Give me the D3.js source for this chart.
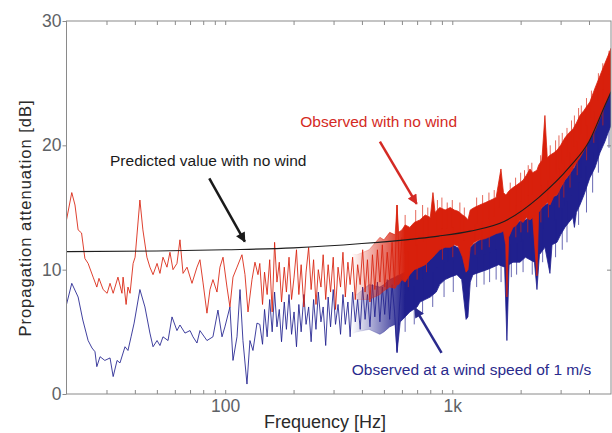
<!DOCTYPE html>
<html>
<head>
<meta charset="utf-8">
<script src="https://cdn.jsdelivr.net/npm/d3@7"></script>
<style>
  body { margin: 0; background: #fff; }
  svg { display: block; font-family: "Liberation Sans", Arial, sans-serif; }
</style>
</head>
<body>
<svg id="chart" width="612" height="433"></svg>
<script>
// predicted attenuation, no wind [Hz, dB]
var predicted = [[20, 11.45], [50, 11.5], [100, 11.6], [200, 11.75], [400, 12.1], [700, 12.5],
  [870, 12.7], [1200, 13.1], [1700, 13.9], [2400, 15.8], [3300, 18.3], [4000, 20.3],
  [4700, 23.2], [5000, 24.3]];

// observed, no wind : low-frequency trace [Hz, dB]
var redLine = [[20, 14.0], [21.1, 16.2], [21.8, 15.2], [22.5, 13.2], [23.3, 12.95], [24.1, 10.9],
  [24.9, 10.5], [26.2, 9.4], [27.2, 8.6], [27.8, 9.3], [29.0, 8.4], [30.2, 8.1], [31.1, 8.9],
  [32.1, 8.1], [33.7, 9.4], [35.1, 8.1], [35.5, 9.4], [36.6, 7.2], [37.3, 8.6], [38.1, 8.1],
  [39.3, 10.5], [40.1, 11.0], [42.1, 15.6], [43.4, 13.2], [45.2, 11.0], [46.6, 10.2], [48.1, 9.6],
  [50.1, 10.5], [51.6, 9.7], [53.2, 11.0], [55.4, 10.2], [57.1, 11.4], [58.9, 10.0], [61.3, 10.5],
  [63.2, 12.4], [65.2, 9.7], [67.9, 10.2], [71.4, 8.9], [75.1, 10.2], [77.4, 10.8], [79.8, 9.0],
  [83.1, 6.5], [85.7, 8.4], [88.3, 9.2], [92.0, 8.2], [94.8, 10.2], [97.8, 11.0], [101.8, 8.6],
  [104.9, 7.0], [108.2, 9.4], [112.7, 10.2], [118.5, 11.2], [122.2, 9.6], [126.0, 6.6],
  [131.2, 9.2], [135.2, 10.6], [139.4, 9.6],
  [142, 10.5], [146, 7.2], [149, 9.8], [153, 8.0], [157, 10.8], [161, 6.6], [165, 12.2], [169, 9.0],
  [173, 10.6], [177, 7.4], [182, 10.2], [186, 8.2], [191, 11.0], [196, 7.6], [201, 9.4], [206, 11.6],
  [211, 8.0], [216, 10.4], [222, 7.0], [227, 9.8], [233, 11.8], [239, 8.4], [245, 10.8], [251, 7.2],
  [257, 10.0], [264, 8.6], [270, 11.2], [277, 7.6], [284, 10.4], [291, 8.2], [299, 11.0], [306, 6.8],
  [314, 10.2], [322, 8.6], [330, 11.4], [338, 7.8], [347, 10.6], [355, 8.8], [364, 11.0], [374, 7.6],
  [383, 10.4], [393, 8.8], [403, 11.6], [413, 8.2], [423, 10.8], [434, 7.4], [445, 11.2], [456, 8.4],
  [468, 11.6], [480, 9.0], [492, 12.0], [504, 8.6], [517, 11.4], [530, 9.2], [543, 12.2], [557, 8.8],
  [571, 15.2], [585, 9.6], [600, 12.6]];

// observed, wind 1 m/s : low-frequency trace [Hz, dB]
var blueLine = [[20, 7.2], [21.1, 8.9], [22.5, 7.8], [23.6, 5.95], [24.9, 4.3], [25.9, 3.7],
  [26.7, 3.4], [27.2, 2.2], [28.1, 3.0], [29.5, 2.7], [31.1, 2.9], [32.1, 1.4], [33.4, 2.7],
  [34.4, 2.5], [36.2, 3.8], [37.3, 3.5], [38.5, 4.6], [39.7, 5.7], [42.1, 8.4], [44.3, 7.0],
  [46.6, 4.9], [48.1, 3.8], [50.1, 4.3], [51.6, 3.9], [53.2, 4.6], [56.0, 4.3], [58.3, 6.2],
  [61.3, 5.1], [63.2, 5.55], [66.5, 4.9], [70.0, 5.1], [72.1, 4.6], [75.1, 4.1], [77.4, 5.1],
  [83.1, 4.3], [88.3, 4.6], [92.9, 6.75], [96.8, 4.6], [99.7, 5.4], [104.9, 7.0], [108.2, 2.7],
  [112.7, 4.6], [116.2, 8.4], [119.7, 4.3], [124.7, 0.8], [128.5, 4.3], [132.5, 3.5], [138.0, 5.7],
  [142, 5.6], [146, 4.0], [149, 6.8], [153, 4.6], [157, 7.6], [161, 5.0], [165, 8.2], [169, 5.4],
  [173, 6.8], [177, 4.2], [182, 7.4], [186, 5.2], [191, 8.0], [196, 4.8], [201, 6.6], [206, 3.8],
  [211, 7.2], [216, 5.0], [222, 8.0], [227, 5.6], [233, 7.0], [239, 4.2], [245, 7.6], [251, 5.2],
  [257, 8.2], [264, 5.8], [270, 7.0], [277, 3.9], [284, 7.8], [291, 5.4], [299, 8.4], [306, 5.6],
  [314, 7.2], [322, 4.8], [330, 8.0], [338, 5.6], [347, 7.4], [355, 4.6], [364, 8.2], [374, 5.8],
  [383, 7.6], [393, 5.2], [403, 8.6], [413, 6.0], [423, 8.0], [434, 5.4], [445, 8.8], [456, 6.2],
  [468, 9.0], [480, 5.8], [492, 8.6], [504, 6.4], [517, 9.2], [530, 6.0], [543, 8.8], [557, 6.6],
  [571, 3.4], [585, 7.0], [600, 9.4]];

// dense high-frequency part, min / max envelope [Hz, low dB, high dB]
var redBand = [[330, 7.6, 11.4], [380, 7.6, 11.2], [430, 7.6, 11.6],
  [480, 8.0, 12.6], [500, 8.3, 12.4], [530, 8.6, 13.0], [560, 8.5, 12.8], [571, 8.8, 15.2],
  [580, 8.8, 13.0], [600, 9.2, 13.2], [620, 9.0, 13.6], [650, 9.6, 13.4], [680, 10.0, 13.8],
  [720, 10.2, 14.0], [760, 10.4, 14.4], [800, 10.8, 14.2], [822, 11.0, 16.2], [840, 11.2, 14.6],
  [880, 11.6, 15.0], [930, 11.8, 14.8], [980, 11.8, 15.0], [1020, 12.0, 14.8], [1060, 11.9, 14.7],
  [1110, 11.0, 14.4], [1150, 9.8, 14.2], [1172, 10.0, 14.0], [1200, 11.8, 14.8], [1250, 12.2, 15.0],
  [1320, 12.4, 15.2], [1400, 12.5, 15.4], [1480, 12.7, 15.6], [1560, 12.9, 15.8], [1638, 13.0, 18.1],
  [1680, 13.1, 16.2], [1720, 12.0, 16.0], [1740, 7.8, 16.1], [1770, 12.6, 16.3], [1850, 13.4, 16.6],
  [1920, 13.6, 16.8], [1986, 14.0, 17.0], [2050, 13.8, 17.2], [2120, 14.2, 17.6], [2198, 14.0, 18.1],
  [2260, 14.2, 17.8], [2360, 9.5, 18.0], [2400, 14.6, 18.4], [2480, 15.0, 18.8], [2558, 15.2, 22.4],
  [2620, 15.4, 19.0], [2692, 15.2, 19.2], [2800, 15.9, 19.4], [2890, 16.0, 19.6], [3000, 16.6, 20.0],
  [3134, 17.2, 20.6], [3260, 17.6, 21.0], [3398, 18.1, 21.3], [3520, 18.6, 21.8], [3648, 19.0, 22.4],
  [3800, 19.6, 22.8], [4038, 20.5, 23.5], [4250, 21.2, 24.6], [4470, 22.2, 25.6], [4700, 23.2, 26.6],
  [4850, 23.8, 27.2], [5000, 24.5, 27.8]];

var blueBand = [[330, 4.6, 8.2], [380, 5.0, 8.0], [430, 5.2, 8.8],
  [480, 4.8, 8.6], [500, 5.0, 8.8], [530, 5.4, 9.2], [560, 5.6, 9.4], [571, 3.3, 9.5],
  [590, 5.8, 9.6], [620, 6.2, 9.8], [650, 6.6, 10.2], [700, 7.0, 10.6], [721, 7.4, 11.0],
  [760, 7.6, 11.2], [800, 7.8, 11.4], [850, 8.2, 11.8], [880, 8.8, 12.0], [930, 9.2, 12.0],
  [980, 9.4, 12.1], [1048, 9.6, 11.8], [1100, 9.2, 11.6], [1150, 6.0, 11.4], [1172, 6.2, 11.2],
  [1200, 9.0, 11.8], [1233, 9.6, 12.0], [1324, 9.8, 12.4], [1422, 10.0, 12.6], [1510, 10.2, 12.8],
  [1600, 10.4, 13.0], [1700, 10.2, 13.2], [1740, 4.3, 13.0], [1780, 10.4, 13.4], [1850, 10.6, 13.6],
  [1986, 10.6, 13.9], [2100, 11.0, 14.0], [2198, 10.8, 14.3], [2300, 10.6, 14.4], [2360, 8.4, 14.4],
  [2420, 11.2, 14.8], [2558, 11.8, 15.2], [2692, 9.7, 15.4], [2750, 12.0, 15.8], [2890, 12.2, 16.0],
  [3000, 12.8, 16.6], [3134, 13.4, 17.2], [3260, 13.8, 17.6], [3398, 14.2, 18.1], [3450, 13.4, 18.2],
  [3520, 14.6, 18.6], [3648, 15.2, 19.2], [3800, 16.0, 19.8], [4038, 17.4, 20.5], [4250, 18.2, 21.6],
  [4470, 19.4, 22.6], [4700, 20.3, 23.8], [4850, 21.0, 24.3], [5000, 21.6, 24.8]];

// single spikes sticking out of the dense part [Hz, dB]
var redSpikes = [[620, 14.4], [640, 8.6], [690, 14.8], [700, 9.2], [740, 15.2], [770, 9.8], [780, 15.0],
  [860, 15.6], [900, 15.8], [905, 10.8], [950, 15.4], [1000, 15.6], [1005, 11.0], [1080, 15.4],
  [1130, 15.0], [1260, 11.2], [1280, 15.8], [1350, 11.6], [1360, 16.0], [1450, 16.2], [1455, 11.8],
  [1530, 16.4], [1600, 16.6], [1800, 17.0], [1900, 17.4], [1905, 12.6], [2000, 17.8], [2005, 13.0],
  [2080, 18.0], [2150, 13.0], [2160, 18.4], [2240, 18.6], [2450, 19.2], [2455, 13.8], [2600, 19.8],
  [2650, 14.2], [2700, 20.0], [2850, 20.4], [2950, 20.8], [2955, 15.0], [3050, 21.0], [3100, 15.8],
  [3200, 21.4], [3300, 16.6], [3350, 22.0], [3450, 22.4], [3550, 17.6], [3600, 23.0], [3700, 23.2],
  [3900, 23.8], [3905, 18.8], [4100, 24.4], [4200, 20.2], [4400, 25.8], [4600, 26.6], [4605, 21.6],
  [4900, 27.6]];

var blueSpikes = [[620, 5.0], [640, 10.4], [680, 5.6], [740, 6.4], [745, 11.4], [820, 7.0], [860, 12.4],
  [920, 7.8], [960, 12.6], [1010, 8.2], [1100, 12.2], [1280, 8.6], [1380, 8.8], [1400, 13.0],
  [1460, 9.0], [1560, 9.2], [1565, 13.4], [1640, 9.0], [1800, 13.8], [1820, 9.4], [1920, 9.6],
  [2000, 14.4], [2050, 9.8], [2200, 14.8], [2250, 9.6], [2500, 10.6], [2505, 15.6], [2800, 16.4],
  [2850, 11.0], [3050, 11.6], [3100, 17.6], [3200, 12.2], [3350, 18.6], [3600, 13.6], [3700, 19.8],
  [3900, 14.6], [4000, 21.0], [4150, 16.2], [4300, 22.2], [4400, 17.8], [4600, 23.4], [4900, 19.8]];

var xMajor = [100, 1000];
var xMajorLabels = ["100", "1k"];
var xMinor = [30, 40, 50, 60, 70, 80, 90, 200, 300, 400, 500, 600, 700, 800, 900, 2000, 3000, 4000];
var yTicks = [0, 10, 20, 30];

// annotations: text start [Hz, dB], arrow tail -> tip
var notes = [
  { text: "Predicted value with no wind", at: [31.1, 18.35], from: [85.1, 17.35], to: [122, 12.25], color: "#1a1a1a" },
  { text: "Observed with no wind", at: [214, 21.5], from: [480, 20.3], to: [697, 15.3], color: "#d42a24" },
  { text: "Observed at a wind speed of 1 m/s", at: [361, 1.5], from: [897, 3.3], to: [685, 6.9], color: "#2a2a8c" }
];

var redColor = "#d8200c";
var blueColor = "#20208e";

var svg = d3.select("#chart");
var x = d3.scaleLog().domain([20, 5000]).range([66.5, 611]);
var y = d3.scaleLinear().domain([0, 30]).range([394, 21]);

var defs = svg.append("defs");
defs.append("clipPath").attr("id", "plot")
  .append("rect")
  .attr("x", x.range()[0]).attr("y", y.range()[1])
  .attr("width", x.range()[1] - x.range()[0])
  .attr("height", y.range()[0] - y.range()[1]);

// dense part fades in where the single trace turns into a smear
[["redFade", redColor], ["blueFade", blueColor]].forEach(function (g) {
  var lg = defs.append("linearGradient").attr("id", g[0])
    .attr("gradientUnits", "userSpaceOnUse")
    .attr("x1", x(360)).attr("x2", x(620)).attr("y1", 0).attr("y2", 0);
  lg.append("stop").attr("offset", 0).attr("stop-color", g[1]).attr("stop-opacity", 0);
  lg.append("stop").attr("offset", 1).attr("stop-color", g[1]).attr("stop-opacity", 1);
});

var markers = defs.selectAll("marker")
  .data(notes).enter().append("marker")
  .attr("id", function (d, i) { return "head" + i; })
  .attr("viewBox", "0 0 10 10")
  .attr("refX", 9).attr("refY", 5)
  .attr("markerWidth", 12).attr("markerHeight", 10)
  .attr("markerUnits", "userSpaceOnUse")
  .attr("orient", "auto");
markers.append("path").attr("d", "M0,0L10,5L0,10z").attr("fill", function (d) { return d.color; });

var plot = svg.append("g").attr("clip-path", "url(#plot)");

var line = d3.line()
  .x(function (d) { return x(d[0]); })
  .y(function (d) { return y(d[1]); });
var band = d3.area()
  .x(function (d) { return x(d[0]); })
  .y0(function (d) { return y(d[1]); })
  .y1(function (d) { return y(d[2]); });

// middle of a band at frequency f, so spikes start inside the smear
function bandMid(b, f) {
  var i = d3.bisector(function (d) { return d[0]; }).left(b, f);
  i = Math.max(1, Math.min(b.length - 1, i));
  var a = b[i - 1], c = b[i];
  var t = (Math.log(f) - Math.log(a[0])) / (Math.log(c[0]) - Math.log(a[0]));
  var ma = (a[1] + a[2]) / 2, mc = (c[1] + c[2]) / 2;
  return ma + (mc - ma) * t;
}

function drawSeries(trace, b, spikes, color, fade) {
  plot.append("path").datum(trace)
    .attr("d", line).attr("fill", "none").attr("stroke", color)
    .attr("stroke-width", 1).attr("stroke-opacity", 0.85);
  plot.append("path").datum(b)
    .attr("d", band).attr("fill", "url(#" + fade + ")")
    .attr("stroke", "url(#" + fade + ")").attr("stroke-width", 0.8);
  plot.append("g").selectAll("line")
    .data(spikes).enter().append("line")
    .attr("x1", function (d) { return x(d[0]); })
    .attr("x2", function (d) { return x(d[0]); })
    .attr("y1", function (d) { return y(bandMid(b, d[0])); })
    .attr("y2", function (d) { return y(d[1]); })
    .attr("stroke", color).attr("stroke-width", 0.8).attr("stroke-opacity", 0.85);
}

drawSeries(blueLine, blueBand, blueSpikes, blueColor, "blueFade");
drawSeries(redLine, redBand, redSpikes, redColor, "redFade");

plot.append("path").datum(predicted)
  .attr("d", line.curve(d3.curveMonotoneX))
  .attr("fill", "none").attr("stroke", "#1e1e1e").attr("stroke-width", 1.1);

// axes
var axisColor = "#8a8a8a";
var xAll = xMajor.concat(xMinor);
var fmtX = function (d) {
  var i = xMajor.indexOf(d);
  return i < 0 ? "" : xMajorLabels[i];
};

var gx = svg.append("g").attr("transform", "translate(0," + y.range()[0] + ")")
  .call(d3.axisBottom(x).tickValues(xAll).tickFormat(fmtX).tickSizeInner(-4).tickSizeOuter(0).tickPadding(6));
var gxTop = svg.append("g").attr("transform", "translate(0," + y.range()[1] + ")")
  .call(d3.axisTop(x).tickValues(xAll).tickFormat("").tickSizeInner(-4).tickSizeOuter(0));
var gy = svg.append("g").attr("transform", "translate(" + x.range()[0] + ",0)")
  .call(d3.axisLeft(y).tickValues(yTicks).tickSizeInner(4).tickSizeOuter(0).tickPadding(1));
var gyRight = svg.append("g").attr("transform", "translate(" + x.range()[1] + ",0)")
  .call(d3.axisRight(y).tickValues(yTicks.slice(1, 3)).tickFormat("").tickSizeInner(-4).tickSizeOuter(0));

[gx, gxTop, gy, gyRight].forEach(function (g) {
  g.select(".domain").remove();
  g.selectAll(".tick line").attr("stroke", axisColor);
  g.selectAll("text").attr("fill", "#5e6266").attr("font-size", "17.5px")
    .attr("font-family", "'Liberation Sans', Arial, sans-serif");
});

svg.append("rect")
  .attr("x", x.range()[0]).attr("y", y.range()[1])
  .attr("width", x.range()[1] - x.range()[0])
  .attr("height", y.range()[0] - y.range()[1])
  .attr("fill", "none").attr("stroke", axisColor).attr("stroke-width", 1);

// axis titles
svg.append("text")
  .attr("transform", "translate(31,218) rotate(-90)")
  .attr("text-anchor", "middle")
  .attr("font-size", "16.5px")
  .attr("letter-spacing", "1px")
  .attr("fill", "#2a2a2a")
  .text("Propagation attenuation [dB]");

svg.append("text")
  .attr("x", 325).attr("y", 428)
  .attr("text-anchor", "middle")
  .attr("font-size", "18px")
  .attr("fill", "#2a2a2a")
  .text("Frequency [Hz]");

// annotations
var ann = svg.append("g");
ann.selectAll("line")
  .data(notes).enter().append("line")
  .attr("x1", function (d) { return x(d.from[0]); })
  .attr("y1", function (d) { return y(d.from[1]); })
  .attr("x2", function (d) { return x(d.to[0]); })
  .attr("y2", function (d) { return y(d.to[1]); })
  .attr("stroke", function (d) { return d.color; })
  .attr("stroke-width", 2.5)
  .attr("marker-end", function (d, i) { return "url(#head" + i + ")"; });

ann.selectAll("text")
  .data(notes).enter().append("text")
  .attr("x", function (d) { return x(d.at[0]); })
  .attr("y", function (d) { return y(d.at[1]); })
  .attr("font-size", "15.5px")
  .attr("fill", function (d) { return d.color; })
  .text(function (d) { return d.text; });
</script>
</body>
</html>
